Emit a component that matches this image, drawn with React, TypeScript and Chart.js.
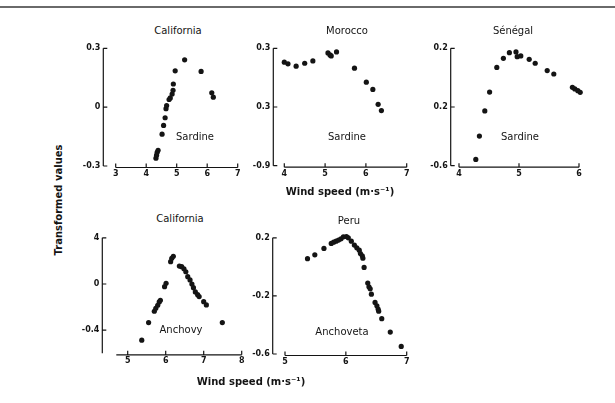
import React, { useEffect, useRef } from "react";
import { Chart, registerables } from "chart.js";
Chart.register(...registerables);

// ---------- DATA ----------
// California — Sardine
const calSardineWind = [4.32, 4.34, 4.36, 4.39, 4.52, 4.57, 4.62, 4.65, 4.67, 4.75, 4.79, 4.85, 4.88, 4.89, 4.95, 5.26, 5.8, 6.15, 6.2];
const calSardineVal = [-0.26, -0.245, -0.23, -0.22, -0.138, -0.093, -0.054, -0.008, 0.008, 0.039, 0.047, 0.067, 0.086, 0.118, 0.185, 0.241, 0.182, 0.073, 0.051];
const calSardineXTicks = [3, 4, 5, 6, 7];
const calSardineYTicks = [0.3, 0, -0.3];
const calSardineYLabels = ["0.3", "0", "-0.3"];

// Morocco — Sardine
const morSardineWind = [4.0, 4.09, 4.29, 4.5, 4.7, 5.07, 5.12, 5.15, 5.28, 5.72, 6.01, 6.17, 6.3, 6.38];
const morSardineVal = [0.158, 0.141, 0.117, 0.147, 0.171, 0.253, 0.232, 0.222, 0.263, 0.097, -0.046, -0.12, -0.273, -0.337];
const morSardineXTicks = [4, 5, 6, 7];
const morSardineYTicks = [0.3, -0.3, -0.9];
const morSardineYLabels = ["0.3", "0.3", "-0.9"];

// Sénégal — Sardine
const senSardineWind = [4.28, 4.34, 4.43, 4.51, 4.63, 4.74, 4.84, 4.95, 4.97, 5.03, 5.17, 5.27, 5.47, 5.58, 5.89, 5.93, 5.98, 6.02];
const senSardineVal = [-0.557, -0.398, -0.227, -0.098, 0.07, 0.132, 0.17, 0.175, 0.143, 0.148, 0.125, 0.098, 0.048, 0.025, -0.066, -0.077, -0.089, -0.1];
const senSardineXTicks = [4, 5, 6];
const senSardineYTicks = [0.2, -0.2, -0.6];
const senSardineYLabels = ["0.2", "0.2", "-0.6"];

// California — Anchovy
const calAnchovyWind = [5.37, 5.55, 5.7, 5.74, 5.79, 5.83, 5.86, 5.97, 6.01, 6.13, 6.16, 6.2, 6.36, 6.42, 6.48, 6.53, 6.58, 6.64, 6.69, 6.73, 6.78, 6.84, 6.88, 7.0, 7.07, 7.49];
const calAnchovyVal = [-0.486, -0.334, -0.236, -0.21, -0.184, -0.155, -0.141, -0.023, 0.006, 0.193, 0.222, 0.24, 0.155, 0.15, 0.132, 0.106, 0.063, 0.035, 0.0, -0.032, -0.069, -0.092, -0.109, -0.153, -0.181, -0.334];
const calAnchovyXTicks = [5, 6, 7, 8];
const calAnchovyYTicks = [0.4, 0, -0.4];
const calAnchovyYLabels = ["4", "0", "-0.4"];

// Peru — Anchoveta
const peruAnchovetaWind = [5.37, 5.49, 5.64, 5.76, 5.8, 5.84, 5.88, 5.92, 5.96, 6.01, 6.04, 6.09, 6.14, 6.18, 6.22, 6.24, 6.27, 6.28, 6.3, 6.36, 6.38, 6.4, 6.42, 6.48, 6.51, 6.53, 6.54, 6.59, 6.73, 6.91];
const peruAnchovetaVal = [0.056, 0.083, 0.127, 0.161, 0.17, 0.177, 0.184, 0.193, 0.207, 0.209, 0.2, 0.177, 0.15, 0.131, 0.115, 0.092, 0.076, 0.06, -0.004, -0.112, -0.137, -0.151, -0.188, -0.245, -0.268, -0.291, -0.305, -0.357, -0.449, -0.548];
const peruAnchovetaXTicks = [5, 6, 7];
const peruAnchovetaYTicks = [0.2, -0.2, -0.6];
const peruAnchovetaYLabels = ["0.2", "-0.2", "-0.6"];

// ---------- LAYOUT ----------
type PanelProps = {
  xs: number[]; ys: number[];
  xTicks: number[]; yTicks: number[]; yLabels: string[];
  yMin: number; yMax: number; xAxisStart: number;
  axisLeft: number; top: number; bottom: number; firstPx: number; lastPx: number;
};

const YW = 30, XH = 16, PT = 8, PR = 8;
const INK = "#141414";
const FONT = "'DejaVu Sans', sans-serif";

const axesPlugin = {
  id: "sketchAxes",
  afterDatasetsDraw(chart: any, _args: any, opts: any) {
    const ctx = chart.ctx;
    const xs = chart.scales.x;
    const ys = chart.scales.y;
    const ca = chart.chartArea;
    ctx.save();
    ctx.strokeStyle = INK;
    ctx.lineWidth = 1.2;
    const ax = ca.left;
    ctx.beginPath();
    ctx.moveTo(ax, ys.getPixelForValue(ys.max));
    ctx.lineTo(ax, ys.getPixelForValue(ys.min));
    for (const t of ys.ticks) {
      const py = ys.getPixelForValue(t.value);
      ctx.moveTo(ax, py);
      ctx.lineTo(ax + 4, py);
    }
    const by = ca.bottom + 1.5;
    ctx.moveTo(xs.getPixelForValue(opts.xAxisStart), by);
    ctx.lineTo(xs.getPixelForValue(xs.max), by);
    for (const t of xs.ticks) {
      const px = xs.getPixelForValue(t.value);
      ctx.moveTo(px, by);
      ctx.lineTo(px, by - 4);
    }
    ctx.stroke();
    ctx.restore();
  },
};

function Panel(p: PanelProps) {
  const ref = useRef<HTMLCanvasElement>(null);
  const left = Math.round(p.axisLeft - YW);
  const top = Math.round(p.top - PT);
  const width = Math.round(p.lastPx + PR - left);
  const height = Math.round(p.bottom + XH - top);
  const yw = p.axisLeft - left;
  const pt = p.top - top;
  const pr = width - (p.lastPx - left);
  const xh = height - (p.bottom - top);
  const first = p.xTicks[0];
  const last = p.xTicks[p.xTicks.length - 1];
  const perUnit = (p.lastPx - p.firstPx) / (last - first);
  const xMin = first - (p.firstPx - p.axisLeft) / perUnit;

  useEffect(() => {
    if (!ref.current) return;
    const chart = new Chart(ref.current, {
      type: "scatter",
      data: {
        datasets: [
          {
            data: p.xs.map((x, i) => ({ x, y: p.ys[i] })),
            backgroundColor: INK,
            borderWidth: 0,
            pointRadius: 2.6,
            clip: false as any,
          },
        ],
      },
      options: {
        animation: false,
        responsive: false,
        devicePixelRatio: 1,
        layout: { padding: { top: pt, right: pr, left: 0, bottom: 0 }, autoPadding: false } as any,
        plugins: {
          legend: { display: false },
          tooltip: { enabled: false },
          sketchAxes: { xAxisStart: p.xAxisStart },
        } as any,
        scales: {
          x: {
            type: "linear",
            min: xMin,
            max: last,
            afterFit: (s: any) => { s.height = xh; },
            afterBuildTicks: (s: any) => { s.ticks = p.xTicks.map((v) => ({ value: v })); },
            grid: { display: false, drawTicks: false },
            border: { display: false },
            ticks: {
              autoSkip: false, maxRotation: 0, padding: 3, color: INK,
              font: { family: FONT, size: 8, weight: "bold" },
              callback: (v: any) => String(v),
            },
          },
          y: {
            type: "linear",
            min: p.yMin,
            max: p.yMax,
            afterFit: (s: any) => { s.width = yw; },
            afterBuildTicks: (s: any) => { s.ticks = p.yTicks.map((v) => ({ value: v })); },
            grid: { display: false, drawTicks: false },
            border: { display: false },
            ticks: {
              autoSkip: false, padding: 3, color: INK,
              font: { family: FONT, size: 8, weight: "bold" },
              callback: (v: any) => {
                const i = p.yTicks.findIndex((t) => Math.abs(t - v) < 1e-9);
                return i >= 0 ? p.yLabels[i] : "";
              },
            },
          },
        },
      } as any,
      plugins: [axesPlugin as any],
    });
    return () => chart.destroy();
  }, []);

  return (
    <canvas
      ref={ref}
      width={width}
      height={height}
      style={{ position: "absolute", left, top, width, height }}
    />
  );
}

function Label(props: { x: number; y: number; text: string; size?: number; bold?: boolean; rotate?: boolean }) {
  return (
    <div
      style={{
        position: "absolute",
        left: props.x,
        top: props.y,
        transform: `translate(-50%, -50%)${props.rotate ? " rotate(-90deg)" : ""}`,
        whiteSpace: "nowrap",
        fontFamily: FONT,
        fontSize: props.size ?? 10,
        fontWeight: props.bold ? "bold" : "normal",
        color: INK,
        lineHeight: 1,
      }}
    >
      {props.text}
    </div>
  );
}

export default function App() {
  return (
    <div style={{ position: "absolute", left: 0, top: 0, width: 615, height: 403, background: "#fff", overflow: "hidden" }}>
      <div style={{ position: "absolute", left: 0, top: 6, width: 615, height: 1.5, background: "#6a6a6a" }} />

      <Panel xs={calSardineWind} ys={calSardineVal} xTicks={calSardineXTicks} yTicks={calSardineYTicks} yLabels={calSardineYLabels}
        yMin={-0.3} yMax={0.3} xAxisStart={3} axisLeft={103.3} top={48.3} bottom={166} firstPx={115.7} lastPx={237.7} />
      <Panel xs={morSardineWind} ys={morSardineVal} xTicks={morSardineXTicks} yTicks={morSardineYTicks} yLabels={morSardineYLabels}
        yMin={-0.9} yMax={0.3} xAxisStart={4} axisLeft={273.3} top={48.3} bottom={165.7} firstPx={284.3} lastPx={406.7} />
      <Panel xs={senSardineWind} ys={senSardineVal} xTicks={senSardineXTicks} yTicks={senSardineYTicks} yLabels={senSardineYLabels}
        yMin={-0.6} yMax={0.2} xAxisStart={4} axisLeft={450.7} top={48.3} bottom={165.7} firstPx={459} lastPx={579} />
      <Panel xs={calAnchovyWind} ys={calAnchovyVal} xTicks={calAnchovyXTicks} yTicks={calAnchovyYTicks} yLabels={calAnchovyYLabels}
        yMin={-0.6} yMax={0.4} xAxisStart={4.7} axisLeft={102.3} top={237.7} bottom={353.3} firstPx={127.7} lastPx={241.7} />
      <Panel xs={peruAnchovetaWind} ys={peruAnchovetaVal} xTicks={peruAnchovetaXTicks} yTicks={peruAnchovetaYTicks} yLabels={peruAnchovetaYLabels}
        yMin={-0.6} yMax={0.2} xAxisStart={5} axisLeft={272.7} top={237.7} bottom={354} firstPx={285} lastPx={406.7} />

      <Label x={178} y={31} text="California" />
      <Label x={195} y={137} text="Sardine" />
      <Label x={347} y={31} text="Morocco" />
      <Label x={347} y={137} text="Sardine" />
      <Label x={513} y={31} text="Sénégal" />
      <Label x={520} y={137} text="Sardine" />
      <Label x={180} y={219} text="California" />
      <Label x={181} y={330} text="Anchovy" />
      <Label x={349} y={221} text="Peru" />
      <Label x={342} y={332} text="Anchoveta" />
      <Label x={340} y={192} text="Wind speed (m·s⁻¹)" bold size={10} />
      <Label x={251} y={382} text="Wind speed (m·s⁻¹)" bold size={10} />
      <Label x={59} y={200} text="Transformed values" bold size={10} rotate />
    </div>
  );
}
